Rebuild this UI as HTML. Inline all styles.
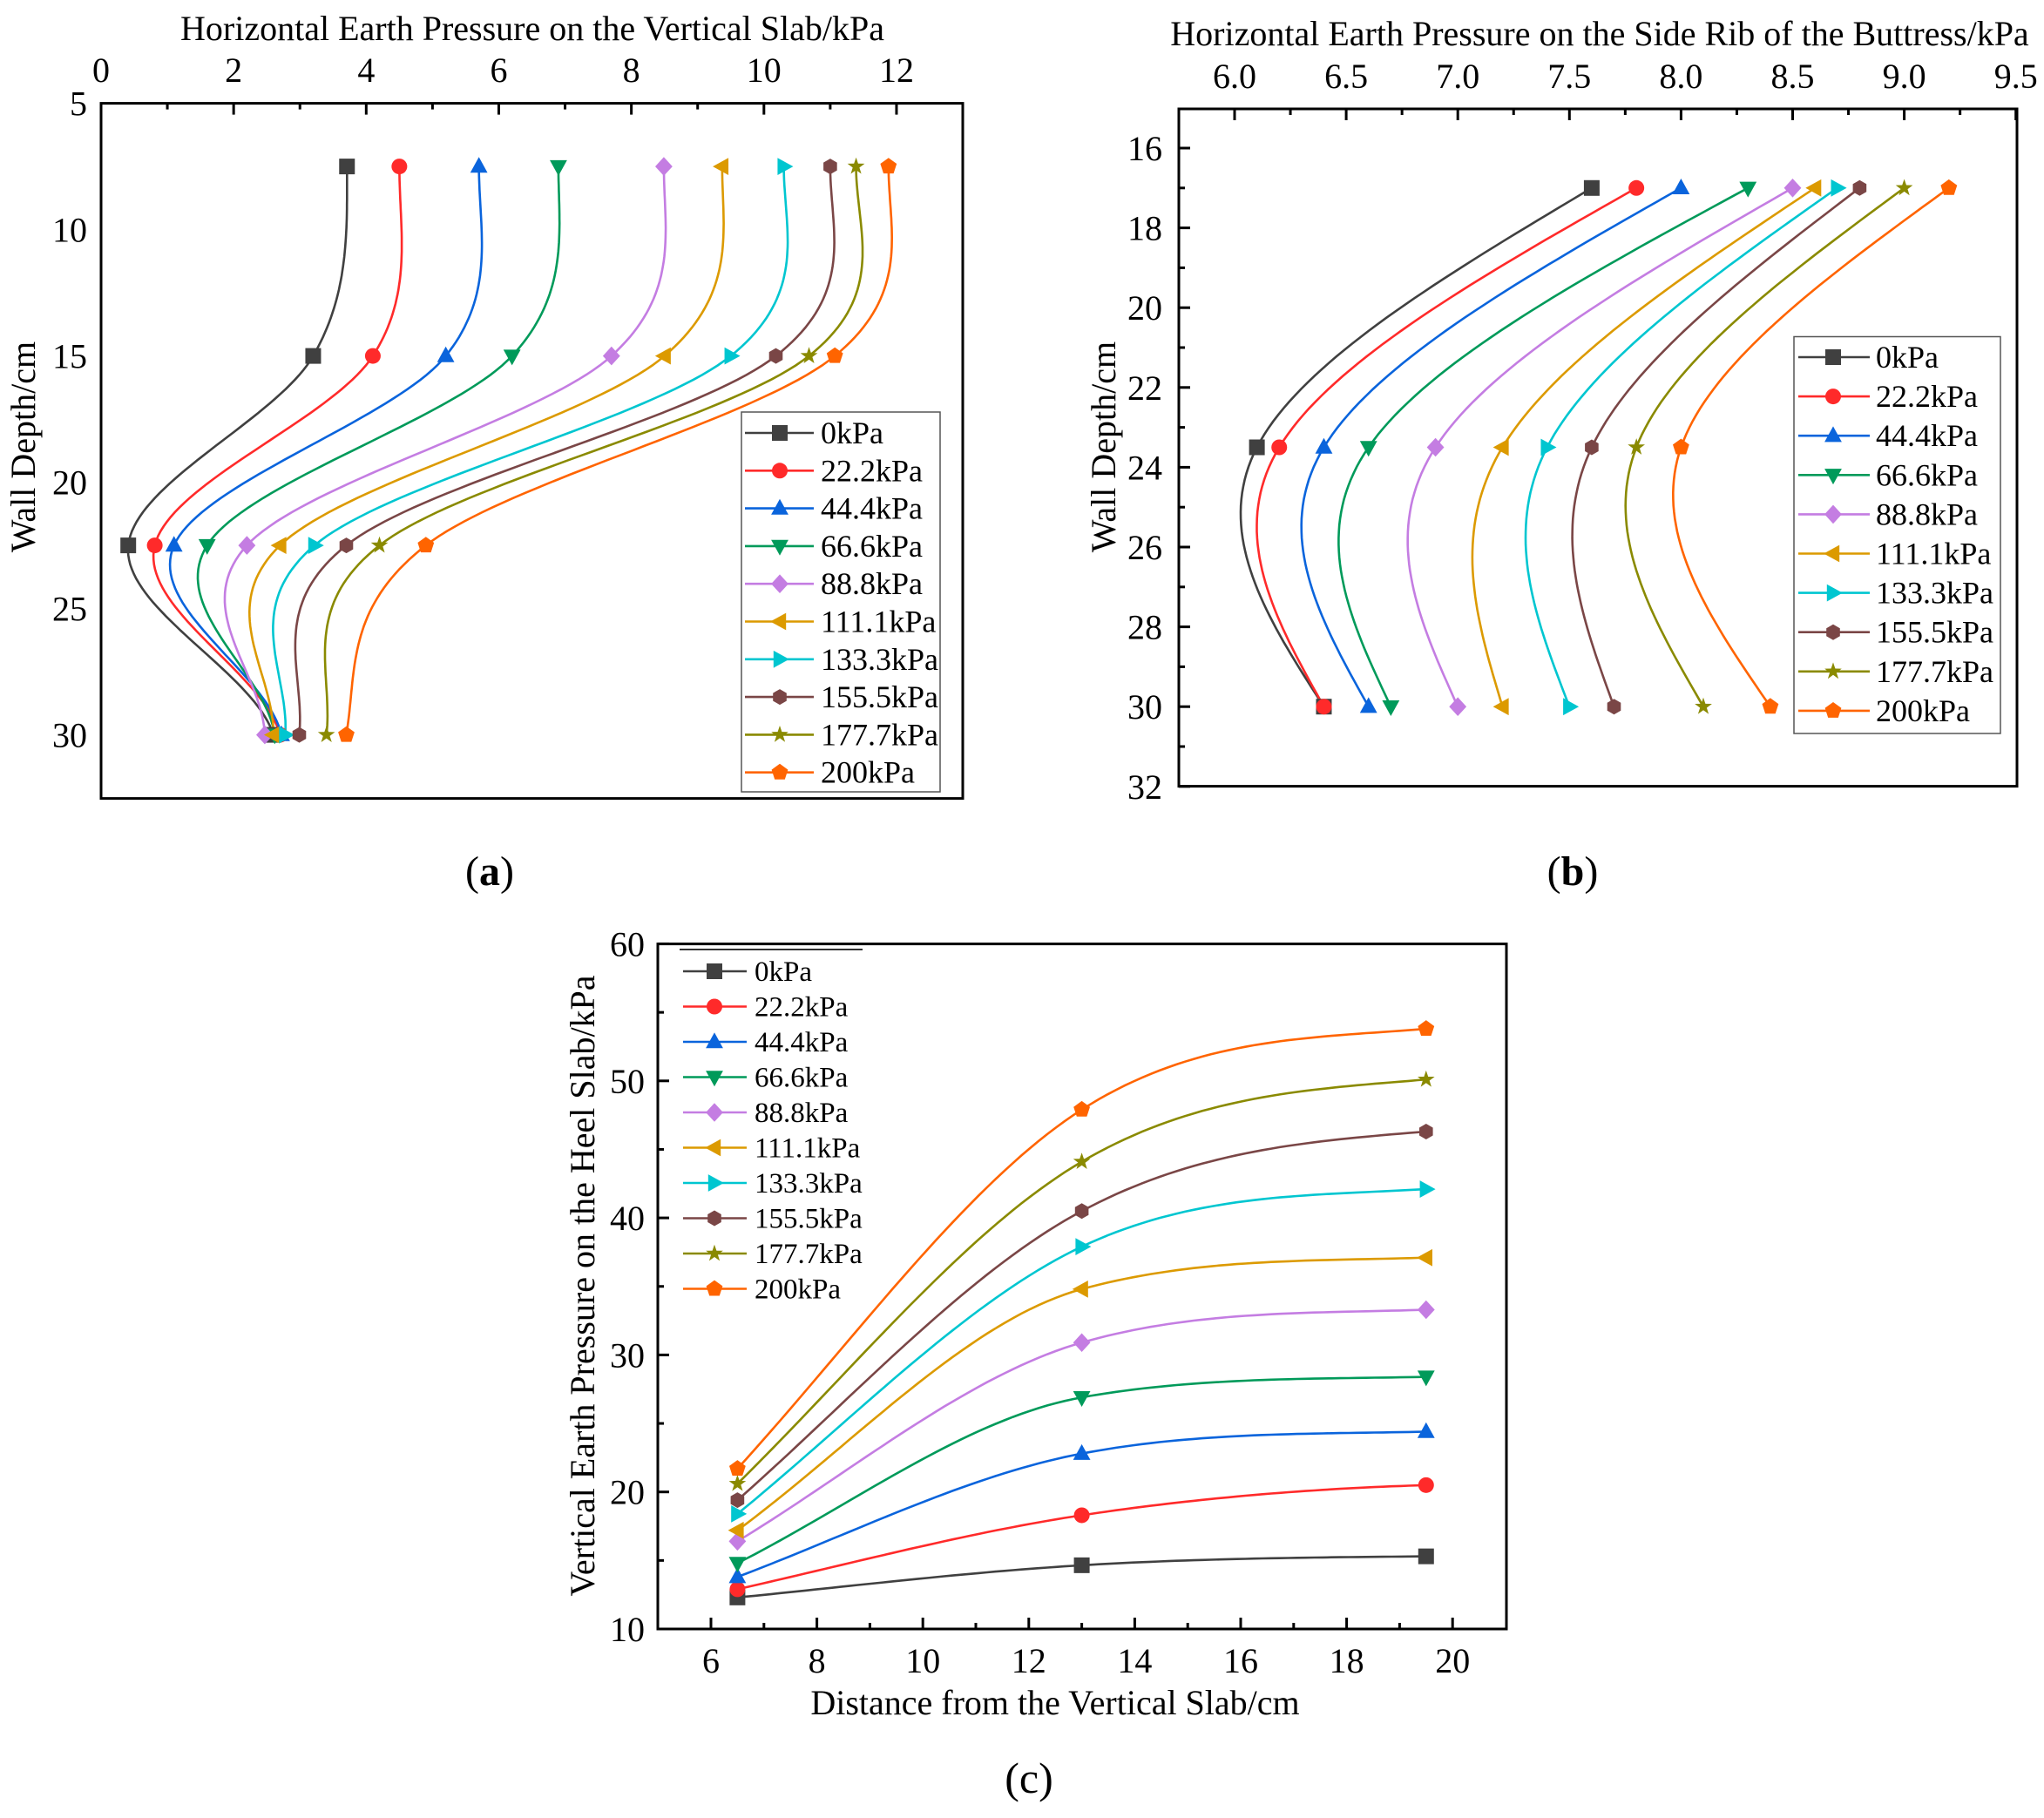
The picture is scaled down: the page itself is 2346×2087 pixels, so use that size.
<!DOCTYPE html>
<html><head><meta charset="utf-8"><style>
html,body{margin:0;padding:0;background:#fff;}
svg{display:block;font-family:"Liberation Serif",serif;}
</style></head><body>
<svg id="s" width="2346" height="2087" xmlns="http://www.w3.org/2000/svg"></svg>
<script>
const S=document.getElementById('s');let h='';
const cols=['#404040','#ff2a2a','#0a64dc','#009a5a','#c47de2','#dc9a00','#00c6d0','#7a4646','#8a8a00','#ff6400'];
const names=['0kPa','22.2kPa','44.4kPa','66.6kPa','88.8kPa','111.1kPa','133.3kPa','155.5kPa','177.7kPa','200kPa'];
function marker(i,x,y,r){const c=cols[i];r=r||9;
 switch(i){
 case 0:return `<rect x="${x-r}" y="${y-r}" width="${2*r}" height="${2*r}" fill="${c}"/>`;
 case 1:return `<circle cx="${x}" cy="${y}" r="${r}" fill="${c}"/>`;
 case 2:return `<polygon points="${x},${y-r*1.2} ${x+r*1.1},${y+r*0.8} ${x-r*1.1},${y+r*0.8}" fill="${c}"/>`;
 case 3:return `<polygon points="${x},${y+r*1.2} ${x+r*1.1},${y-r*0.8} ${x-r*1.1},${y-r*0.8}" fill="${c}"/>`;
 case 4:return `<polygon points="${x},${y-r*1.2} ${x+r*1.1},${y} ${x},${y+r*1.2} ${x-r*1.1},${y}" fill="${c}"/>`;
 case 5:return `<polygon points="${x-r*1.2},${y} ${x+r*0.8},${y-r*1.1} ${x+r*0.8},${y+r*1.1}" fill="${c}"/>`;
 case 6:return `<polygon points="${x+r*1.2},${y} ${x-r*0.8},${y-r*1.1} ${x-r*0.8},${y+r*1.1}" fill="${c}"/>`;
 case 7:{let p=[];for(let k=0;k<6;k++){let a=Math.PI/6+k*Math.PI/3;p.push((x+r*Math.cos(a)).toFixed(1)+','+(y+r*Math.sin(a)).toFixed(1));}return `<polygon points="${p.join(' ')}" fill="${c}"/>`;}
 case 8:{let p=[];for(let k=0;k<10;k++){let a=-Math.PI/2+k*Math.PI/5;let rr=k%2?r*0.45:r*1.15;p.push((x+rr*Math.cos(a)).toFixed(1)+','+(y+rr*Math.sin(a)).toFixed(1));}return `<polygon points="${p.join(' ')}" fill="${c}"/>`;}
 case 9:{let p=[];for(let k=0;k<5;k++){let a=-Math.PI/2+k*2*Math.PI/5;p.push((x+r*1.1*Math.cos(a)).toFixed(1)+','+(y+r*1.1*Math.sin(a)).toFixed(1));}return `<polygon points="${p.join(' ')}" fill="${c}"/>`;}
 }}
function spline(t,v){const n=t.length,hh=t[1]-t[0];let M=new Array(n).fill(0);
 if(n===3){M[1]=1.5*(v[0]-2*v[1]+v[2])/(hh*hh);}
 else if(n===4){let a=6/(hh*hh)*(v[0]-2*v[1]+v[2]),b=6/(hh*hh)*(v[1]-2*v[2]+v[3]);M[1]=(4*a-b)/15;M[2]=(4*b-a)/15;}
 let out=[];for(let i=0;i<n-1;i++){for(let k=0;k<=40;k++){let x=t[i]+hh*k/40;let A=(t[i+1]-x)/hh,B=(x-t[i])/hh;
 let y=A*v[i]+B*v[i+1]+((A*A*A-A)*M[i]+(B*B*B-B)*M[i+1])*hh*hh/6;out.push([x,y]);}}return out;}
function hermite(t,v,m){let out=[];for(let i=0;i<t.length-1;i++){let hh=t[i+1]-t[i];for(let k=0;k<=40;k++){let s=k/40;
 let h00=2*s*s*s-3*s*s+1,h10=s*s*s-2*s*s+s,h01=-2*s*s*s+3*s*s,h11=s*s*s-s*s;
 out.push([t[i]+hh*s,h00*v[i]+h10*hh*m[i]+h01*v[i+1]+h11*hh*m[i+1]]);}}return out;}
function txt(x,y,s,sz,anc,extra){return `<text x="${x}" y="${y}" font-size="${sz}" text-anchor="${anc||'middle'}" ${extra||''}>${s}</text>`;}
// ---------- Panel A
{const X=v=>116+v*76.08,Y=d=>118.6+(d-5)*29.0;
const D=[7.5,15,22.5,30];
const V=[[3.71,3.2,0.41,2.6],[4.5,4.1,0.81,2.7],[5.7,5.2,1.1,2.72],[6.9,6.2,1.6,2.62],[8.49,7.7,2.2,2.47],[9.37,8.5,2.7,2.6],[10.3,9.5,3.22,2.78],[11.0,10.18,3.7,2.99],[11.39,10.68,4.2,3.4],[11.88,11.07,4.9,3.7]];
V.forEach((v,i)=>{let m=[0,(v[2]-v[0])/15,(v[3]-v[1])/15,0.4*(v[3]-v[2])/7.5];
 let p=hermite(D,v,m).map(q=>X(q[1]).toFixed(1)+','+Y(q[0]).toFixed(1));h+=`<polyline points="${p.join(' ')}" fill="none" stroke="${cols[i]}" stroke-width="2.6"/>`;});
V.forEach((v,i)=>D.forEach((d,j)=>h+=marker(i,X(v[j]),Y(d))));
h+=`<rect x="116" y="118.6" width="989" height="798" fill="none" stroke="#000" stroke-width="3"/>`;
for(let v=0;v<=12;v+=1){let x=X(v);h+=`<line x1="${x}" y1="118.6" x2="${x}" y2="${118.6+(v%2?7:13)}" stroke="#000" stroke-width="3"/>`;if(v%2==0)h+=txt(x,94,v,40);}
for(let d=5;d<=30;d+=5){let y=Y(d);h+=txt(100,y+14,d,40,'end');}
h+=txt(611,46,'Horizontal Earth Pressure on the Vertical Slab/kPa',40);
h+=txt(40,513,'Wall Depth/cm',40,'middle','transform="rotate(-90 40 513)"');
h+=`<rect x="851" y="473" width="228" height="436" fill="#fff" stroke="#555" stroke-width="1.5"/>`;
names.forEach((n,i)=>{let y=497+i*43.3;h+=`<line x1="855" y1="${y}" x2="934" y2="${y}" stroke="${cols[i]}" stroke-width="2.6"/>`+marker(i,895,y)+txt(942,y+12,n,36,'start');});
h+=txt(562,1016,'(<tspan font-weight="bold">a</tspan>)',48);}
// ---------- Panel B
{const X=v=>1417+(v-6)*256.2,Y=d=>170+(d-16)*45.8;
const D=[17,23.5,30];
const V=[[7.6,6.1,6.4],[7.8,6.2,6.4],[8.0,6.4,6.6],[8.3,6.6,6.7],[8.5,6.9,7.0],[8.6,7.2,7.2],[8.7,7.4,7.5],[8.8,7.6,7.7],[9.0,7.8,8.1],[9.2,8.0,8.4]];
V.forEach((v,i)=>{let p=spline(D,v).map(q=>X(q[1]).toFixed(1)+','+Y(q[0]).toFixed(1));h+=`<polyline points="${p.join(' ')}" fill="none" stroke="${cols[i]}" stroke-width="2.6"/>`;});
V.forEach((v,i)=>D.forEach((d,j)=>h+=marker(i,X(v[j]),Y(d))));
h+=`<rect x="1353" y="125" width="962" height="777.6" fill="none" stroke="#000" stroke-width="3"/>`;
for(let k=0;k<=15;k++){let v=5.75+k*0.25;let x=X(v);if(x<1355)continue;let maj=(k%2==1);h+=`<line x1="${x}" y1="125" x2="${x}" y2="${125+(maj?13:7)}" stroke="#000" stroke-width="3"/>`;if(maj)h+=txt(x,101,v.toFixed(1),40);}
for(let d=15;d<=32;d+=1){let y=Y(d);if(y<127)continue;let maj=d%2==0;h+=`<line x1="1353" y1="${y}" x2="${1353+(maj?13:7)}" y2="${y}" stroke="#000" stroke-width="3"/>`;if(maj)h+=txt(1334,y+14,d,40,'end');}
h+=txt(1836,52,'Horizontal Earth Pressure on the Side Rib of the Buttress/kPa',40);
h+=txt(1280,513,'Wall Depth/cm',40,'middle','transform="rotate(-90 1280 513)"');
h+=`<rect x="2059" y="386.5" width="237" height="455.5" fill="#fff" stroke="#555" stroke-width="1.5"/>`;
names.forEach((n,i)=>{let y=410+i*45.1;h+=`<line x1="2064" y1="${y}" x2="2146" y2="${y}" stroke="${cols[i]}" stroke-width="2.6"/>`+marker(i,2104,y)+txt(2153,y+12,n,36,'start');});
h+=txt(1805,1016,'(<tspan font-weight="bold">b</tspan>)',48);}
// ---------- Panel C
{const X=v=>816+(v-6)*60.8,Y=v=>1870-(v-10)*15.73;
const T=[6.5,13,19.5];
const V=[[12.3,14.65,15.3],[12.9,18.3,20.5],[13.8,22.8,24.4],[14.8,26.9,28.4],[16.4,30.9,33.3],[17.2,34.8,37.1],[18.4,37.9,42.1],[19.4,40.5,46.3],[20.6,44.1,50.1],[21.7,47.9,53.8]];
V.forEach((v,i)=>{let s1=(v[1]-v[0])/6.5,s2=(v[2]-v[1])/6.5;let mm=(s1+s2)/2;mm=Math.min(mm,3*s2,3*s1);
 let m=[s1*1.05,mm,s2*0.35];
 let p=hermite(T,v,m).map(q=>X(q[0]).toFixed(1)+','+Y(q[1]).toFixed(1));h+=`<polyline points="${p.join(' ')}" fill="none" stroke="${cols[i]}" stroke-width="2.6"/>`;});
V.forEach((v,i)=>T.forEach((t,j)=>h+=marker(i,X(t),Y(v[j]))));
h+=`<rect x="755" y="1083.6" width="974" height="786.4" fill="none" stroke="#000" stroke-width="3"/>`;
for(let v=6;v<=20;v+=1){let x=X(v);let maj=v%2==0;h+=`<line x1="${x}" y1="1870" x2="${x}" y2="${1870-(maj?13:7)}" stroke="#000" stroke-width="3"/>`;if(maj)h+=txt(x,1920,v,40);}
for(let v=10;v<=60;v+=5){let y=Y(v);let maj=v%10==0;h+=`<line x1="755" y1="${y}" x2="${755+(maj?13:7)}" y2="${y}" stroke="#000" stroke-width="3"/>`;if(maj)h+=txt(740,y+14,v,40,'end');}
h+=txt(1211,1968,'Distance from the Vertical Slab/cm',40);
h+=txt(682,1476,'Vertical Earth Pressure on the Heel Slab/kPa',40,'middle','transform="rotate(-90 682 1476)"');
h+=`<line x1="780" y1="1090" x2="990" y2="1090" stroke="#333" stroke-width="2"/>`;
names.forEach((n,i)=>{let y=1115+i*40.5;h+=`<line x1="784" y1="${y}" x2="857" y2="${y}" stroke="${cols[i]}" stroke-width="2.6"/>`+marker(i,820,y)+txt(866,y+11,n,33,'start');});
h+=txt(1181,2058,'(c)',50);}
S.innerHTML=h;
</script>
</body></html>
